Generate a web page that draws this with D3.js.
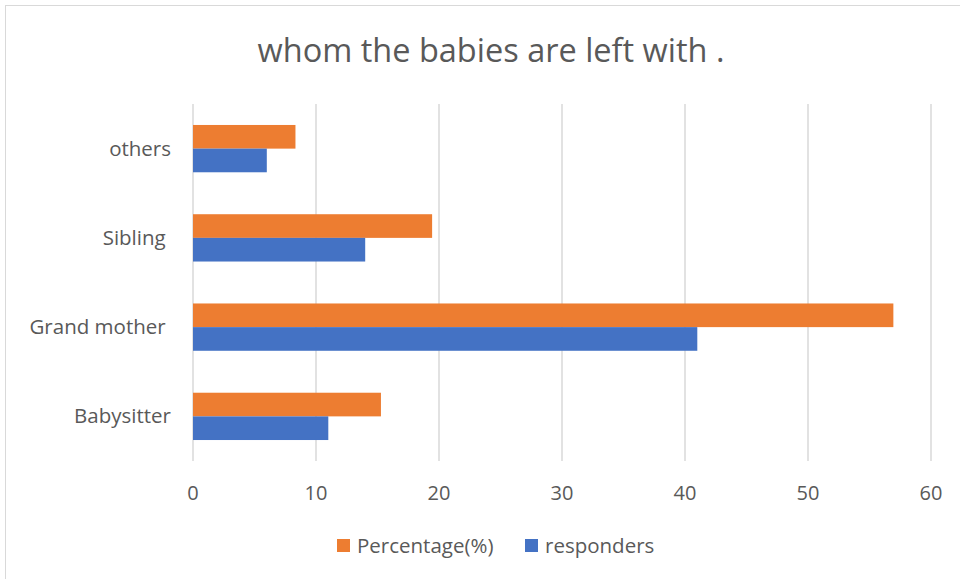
<!DOCTYPE html>
<html>
<head>
<meta charset="utf-8">
<script src="https://cdn.jsdelivr.net/npm/d3@7"></script>
<style>
  body { margin: 0; background: #fff; }
  text { font-family: "Open Sans", "Noto Sans", sans-serif; fill: #595959; white-space: pre; }
</style>
</head>
<body>
<script>
const width = 960;
const height = 579;

const categories = ["Babysitter", "Grand mother ", "Sibling ", "others"];
const responders = [11, 41, 14, 6];
const percentage = [15.28, 56.94, 19.44, 8.33];
const ticks = [0, 10, 20, 30, 40, 50, 60];
const seriesNames = ["Percentage(%)", "responders"];

const colors = { "Percentage(%)": "#ED7D31", "responders": "#4472C4" };

const svg = d3.select("body").append("svg")
    .attr("width", width)
    .attr("height", height);

// chart frame
svg.append("rect")
    .attr("x", 5.5).attr("y", 5.5)
    .attr("width", 960).attr("height", 580)
    .style("fill", "#fff")
    .style("stroke", "#d9d9d9");

svg.append("text")
    .attr("x", 491)
    .attr("y", 62)
    .attr("text-anchor", "middle")
    .style("font-size", "32.5px")
    .text("whom the babies are left with .");

const x = d3.scaleLinear().domain([0, 60]).range([193, 931]);
const y = d3.scaleBand().domain(categories.slice().reverse()).range([104, 461]).paddingInner(0.47).paddingOuter(0.235);
const sub = d3.scaleBand().domain(seriesNames).range([0, y.bandwidth()]);

// gridlines
svg.selectAll(".grid")
    .data(ticks)
    .enter().append("line")
    .attr("x1", d => x(d)).attr("x2", d => x(d))
    .attr("y1", 104).attr("y2", 461)
    .style("stroke", "#d9d9d9")
    .style("stroke-width", 1.5);

const rows = categories.map((c, i) => ({ cat: c, values: [
    { key: "Percentage(%)", v: percentage[i] },
    { key: "responders", v: responders[i] }
] }));

const groups = svg.selectAll(".group")
    .data(rows)
    .enter().append("g")
    .attr("transform", d => `translate(0,${y(d.cat)})`);

groups.selectAll("rect")
    .data(d => d.values)
    .enter().append("rect")
    .attr("x", x(0))
    .attr("y", d => sub(d.key))
    .attr("width", d => x(d.v) - x(0))
    .attr("height", sub.bandwidth())
    .style("fill", d => colors[d.key]);

// x axis labels
svg.selectAll(".xlab")
    .data(ticks)
    .enter().append("text")
    .attr("x", d => x(d))
    .attr("y", 500)
    .attr("text-anchor", "middle")
    .style("font-size", "20px")
    .text(d => d);

// category labels
svg.selectAll(".ylab")
    .data(categories)
    .enter().append("text")
    .attr("x", 171)
    .attr("y", d => y(d) + y.bandwidth() / 2 + 7)
    .attr("text-anchor", "end")
    .style("font-size", "20.5px")
    .text(d => d);

// legend
const legendX = [337, 525];
const legend = svg.selectAll(".legend")
    .data(seriesNames)
    .enter().append("g")
    .attr("transform", (d, i) => `translate(${legendX[i]},539)`);

legend.append("rect")
    .attr("width", 13).attr("height", 13)
    .style("fill", d => colors[d]);

legend.append("text")
    .attr("x", 20)
    .attr("y", 14)
    .style("font-size", "20.5px")
    .text(d => d);
</script>
</body>
</html>
